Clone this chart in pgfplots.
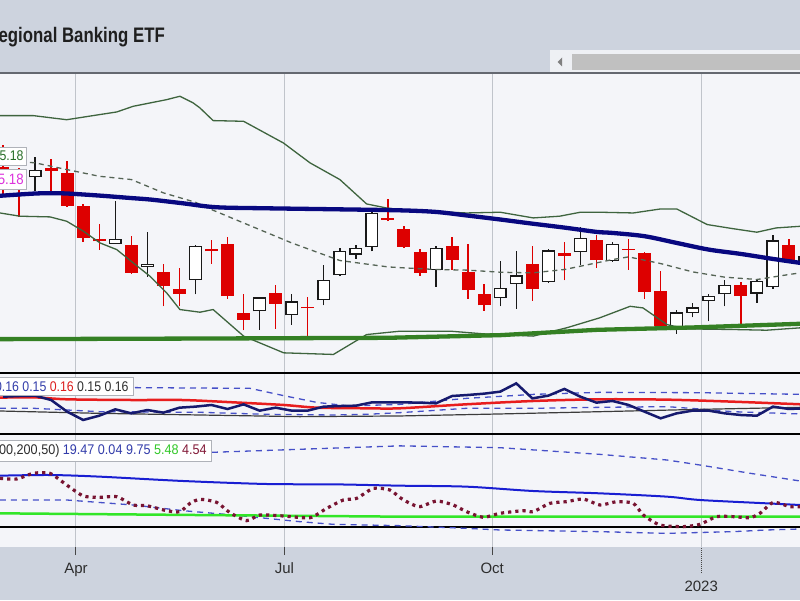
\documentclass[border=0pt]{standalone}
\usepackage{fontspec}
\setmainfont{Liberation Sans}
\setsansfont{Liberation Sans}
\usepackage{pgfplots}
\usepackage{pgfplotstable}
\pgfplotsset{compat=1.18}

\definecolor{hdr}{RGB}{205,211,222}
\definecolor{chartbg}{RGB}{244,245,249}
\definecolor{gridH}{RGB}{214,217,223}
\definecolor{gridV}{RGB}{192,196,203}
\definecolor{topline}{RGB}{100,104,112}
\definecolor{cRed}{RGB}{221,0,0}
\definecolor{bbGreen}{RGB}{62,100,62}
\definecolor{midDash}{RGB}{85,100,85}
\definecolor{navyMA}{RGB}{8,8,128}
\definecolor{greenMA}{RGB}{52,128,36}
\definecolor{navyJag}{RGB}{22,26,110}
\definecolor{redLine}{RGB}{232,30,30}
\definecolor{blkThin}{RGB}{60,60,60}
\definecolor{blueDash}{RGB}{70,80,200}
\definecolor{blueSolid}{RGB}{25,30,210}
\definecolor{limeG}{RGB}{50,230,40}
\definecolor{maroon}{RGB}{120,20,50}
\definecolor{lblBlue}{RGB}{50,60,170}
\definecolor{lblRed}{RGB}{220,30,30}
\definecolor{lblDark}{RGB}{45,45,45}
\definecolor{lblGreen}{RGB}{50,200,40}
\definecolor{lblMaroon}{RGB}{130,25,55}
\definecolor{lblG2}{RGB}{40,110,40}
\definecolor{lblMag}{RGB}{220,50,220}
\definecolor{boxc}{RGB}{175,178,185}
\definecolor{tickc}{RGB}{70,70,70}
\definecolor{scrollbg}{RGB}{238,240,244}
\definecolor{scrollbar}{RGB}{192,192,192}

% weekly candles: k = week index, body top/bottom, high, low
\pgfplotstableread{
k top bot high low
0 67.21 66.95 69.66 64.28
1 65.01 64.76 67.13 62.04
3 67.13 66.81 68.11 64.66
4 66.59 63.18 67.86 63.04
5 63.11 59.97 63.35 59.59
6 59.91 59.65 61.37 58.86
8 59.27 56.69 60.14 56.60
10 56.78 55.55 57.55 53.72
11 55.25 54.84 57.15 53.72
13 58.93 58.70 59.81 57.52
14 59.40 54.60 60.04 54.37
15 53.15 52.58 54.84 51.67
17 54.90 53.96 55.61 51.83
19 53.66 53.55 54.51 51.06
24 61.91 61.78 63.90 61.61
25 60.89 59.11 61.18 59.02
26 58.64 56.69 58.96 56.45
28 59.18 57.92 60.04 57.00
29 56.75 55.19 59.43 54.37
30 54.75 53.81 55.70 53.35
33 57.55 55.28 59.18 54.22
35 58.55 58.23 59.56 56.00
37 59.81 57.86 60.30 57.15
39 58.96 58.83 59.91 57.00
40 58.55 54.95 58.60 54.37
41 55.04 52.02 56.84 51.95
46 55.58 54.60 55.85 52.16
49 59.27 57.86 59.91 57.80
}\redc

\pgfplotstableread{
k top bot high low
2 66.95 66.13 68.29 64.73
7 59.91 59.40 63.63 59.40
9 57.55 57.21 60.53 56.33
12 59.24 56.03 59.30 54.75
16 54.51 53.29 54.51 51.75
18 54.16 52.95 54.81 52.16
20 56.09 54.25 57.37 53.81
21 58.77 56.48 59.02 56.40
22 59.02 58.39 59.30 57.98
23 62.44 59.11 62.71 58.70
27 59.02 56.94 59.24 55.43
31 55.34 54.40 57.83 53.72
32 56.48 55.70 58.77 53.49
34 58.80 55.85 58.93 55.79
36 59.97 58.61 61.02 57.46
38 59.40 57.77 59.59 57.70
42 53.21 51.67 53.44 51.39
43 53.63 53.15 54.01 52.78
44 54.66 54.16 54.84 52.44
45 55.58 54.75 56.03 53.72
47 55.94 54.84 56.09 54.01
48 59.75 55.40 60.23 55.25
50 58.29 57.77 58.55 57.46
}\whitec

\pgfplotsset{
  panel/.style={scale only axis, width=800pt, xmin=-0.187, xmax=49.69,
    anchor=south west, axis line style={draw=none},
    xtick={4.55,17.55,30.5,43.53}, xticklabels={}, ytick=\empty,
    major tick length=0pt, tick style={draw=none},
    xmajorgrids, major grid style={draw=gridV, line width=1pt}},
  wick/.style={draw=none, mark=none, forget plot,
    error bars/.cd, y dir=both, y explicit, error mark=none,
    error bar style={line width=1.4pt, #1}},
}

\begin{document}
\begin{tikzpicture}[x=1pt,y=1pt]
\useasboundingbox (0,0) rectangle (800,600);
\clip (0,0) rectangle (800,600);
\fill[hdr] (0,0) rectangle (800,600);
\fill[chartbg] (0,53) rectangle (800,527);
% scrollbar
\fill[scrollbg] (550,528) rectangle (800,550);
\fill[scrollbar] (572,529.5) rectangle (800,545.5);
\fill[gray] (557.5,538) -- (562,542.5) -- (562,533.5) -- cycle;
% title
\node[anchor=base east, inner sep=0pt, font=\bfseries\fontsize{21}{24}\selectfont, text=black!88] at (165,557) {\scalebox{0.8}[1]{SPDR S\&P Regional Banking ETF}};

% ===== main price panel =====
\begin{axis}[panel, at={(0pt,227pt)}, height=300pt, ymode=log, ymin=48.25, ymax=78.23,
  minor ytick={50,55,60,65,70,75}, yminorgrids, minor grid style={draw=gridH, line width=1pt}]
% red candles
\addplot[wick={draw=cRed}] table[x=k, y=low, y error plus expr={\thisrow{high}-\thisrow{low}}, y error minus expr={0}] {\redc};
\addplot[wick={draw=cRed, line width=13pt}] table[x=k, y=bot, y error plus expr={\thisrow{top}-\thisrow{bot}}, y error minus expr={0}] {\redc};
% hollow candles
\addplot[wick={draw=black!90}] table[x=k, y=low, y error plus expr={\thisrow{high}-\thisrow{low}}, y error minus expr={0}] {\whitec};
\addplot[wick={draw=black!90, line width=13pt}] table[x=k, y=bot, y error plus expr={\thisrow{top}-\thisrow{bot}}, y error minus expr={0}] {\whitec};
\addplot[wick={draw=white, line width=10.4pt, shorten <=1.3pt, shorten >=1.3pt}] table[x=k, y=bot, y error plus expr={\thisrow{top}-\thisrow{bot}}, y error minus expr={0}] {\whitec};
% Bollinger bands
\addplot[bbGreen, line width=1.3pt] coordinates {(-0.19,73.04) (1.89,73.04) (3.97,72.56) (6.05,73.16) (7.09,73.47) (8.12,74.14) (10.2,74.94) (11.03,75.35) (11.86,74.54) (12.28,73.94) (13.1,72.45) (15.0,72.37) (17.48,69.89) (19.14,67.68) (21.0,65.89) (22.67,63.35) (23.9,62.94) (24.75,62.78) (26.5,62.6) (28.9,62.44) (31,62.51) (33.06,61.94) (34.7,62.11) (36,62.51) (37.2,62.51) (39.3,62.44) (41,62.84) (42,62.84) (43.9,61.28) (45.5,60.88) (47,60.53) (48.2,60.95) (49.7,61.11)};
\addplot[bbGreen, line width=1.3pt] coordinates {(-0.19,62.44) (1.06,62.11) (2.93,62.04) (3.97,61.61) (5.01,60.63) (6.05,59.49) (7.09,58.86) (8.12,57.61) (9.16,56.39) (10.2,54.90) (11.03,53.44) (12.28,53.21) (13.1,53.44) (15.0,51.2) (17.5,49.84) (20.6,49.71) (22.67,51.33) (24.75,51.61) (27.9,51.61) (29.95,51.39) (33.06,51.2) (35.14,51.89) (37.2,52.73) (39.1,53.72) (39.9,53.58) (41.4,52.16) (42.6,51.80) (45.5,51.75) (47.6,51.69) (49.7,51.89)};
\addplot[midDash, line width=1.3pt, dash pattern=on 5pt off 4pt] coordinates {(0,67.96) (2,67.68) (4,66.95) (6,66.24) (8,65.89) (10,64.49) (12,63.52) (13,62.78) (15,61.44) (18,59.49) (21,57.83) (24,57.24) (25,57.15) (27,57.00) (29,56.94) (31,56.75) (33,56.69) (35,57.00) (37,57.61) (38,57.92) (39,58.17) (41,57.55) (43,56.78) (45,56.30) (47,56.09) (49,56.54) (50,56.75)};
% moving averages
\addplot[navyMA, line width=4.3pt, smooth] coordinates {(-0.5,64.15) (0,64.21) (2,64.42) (3,64.45) (4,64.42) (6,64.21) (8,63.95) (9.2,63.80) (11.2,63.42) (13.3,63.01) (16.4,62.91) (20.6,62.81) (24.75,62.70) (27,62.54) (29,62.17) (31,61.78) (33,61.37) (35,60.98) (37,60.56) (38,60.46) (40,60.14) (42,59.49) (44,58.86) (46,58.45) (48,57.98) (50,57.55)};
\addplot[greenMA, line width=4.3pt] coordinates {(-0.5,50.95) (12,51.0) (24,51.06) (31,51.28) (37,51.72) (43,51.92) (50,52.24)};
\end{axis}

% ===== middle indicator panel =====
\begin{axis}[panel, at={(0pt,166pt)}, height=61pt, ymin=0.12, ymax=0.19]
\addplot[blueDash, line width=1.3pt, dash pattern=on 6pt off 5pt] coordinates {(0,0.1724) (8.3,0.1732) (15.4,0.1724) (17.5,0.1640) (19.55,0.1563) (21.6,0.1521) (24.75,0.1540) (28.9,0.1609) (33.1,0.1655) (37.2,0.1678) (43.45,0.1674) (49.7,0.1655)};
\addplot[blueDash, line width=1.3pt, dash pattern=on 6pt off 5pt] coordinates {(-0.2,0.1495) (1.9,0.1495) (6.05,0.1456) (12.3,0.1449) (16.4,0.1426) (20.6,0.1418) (22.7,0.1426) (24.75,0.1445) (28.9,0.1495) (33.1,0.1495) (37.2,0.1506) (41.4,0.1514) (43.45,0.1487) (45.5,0.1456) (49.7,0.1430)};
\addplot[blkThin, line width=1.2pt] coordinates {(-0.2,0.1464) (6,0.1437) (12.3,0.1418) (18.5,0.1399) (24.75,0.1407) (31,0.1430) (37.2,0.1456) (43.5,0.1483) (49.7,0.1506)};
\addplot[redLine, line width=2.5pt, smooth] coordinates {(-0.2,0.1617) (1.9,0.1621) (4,0.1598) (8.1,0.1590) (11.2,0.1590) (14.4,0.1563) (17.5,0.1533) (19.6,0.1502) (22.7,0.1495) (24.75,0.1495) (28.9,0.1541) (33.1,0.1579) (37.2,0.1598) (41.4,0.1594) (45.5,0.1571) (49.7,0.1541)};
\addplot[navyJag, line width=2.5pt] coordinates {(0,0.1628) (1,0.1636) (2,0.1640) (3,0.1590) (4,0.1456) (5,0.1361) (6,0.1410) (7,0.1483) (8,0.1437) (9,0.1475) (10,0.1445) (11,0.1502) (12,0.1514) (13,0.1533) (14,0.1487) (15,0.1540) (16,0.1468) (17,0.1502) (18,0.1468) (19,0.1468) (20,0.1514) (21,0.1521) (22,0.1525) (23,0.1563) (24,0.1563) (25,0.1563) (26,0.1560) (27,0.1552) (28,0.1636) (29,0.1648) (30,0.1663) (31,0.1686) (32,0.1781) (33,0.1609) (34,0.1640) (35,0.1717) (36,0.1628) (37,0.1560) (38,0.1579) (39,0.1533) (40,0.1456) (41,0.1380) (42,0.1437) (43,0.1468) (44,0.1468) (45,0.1437) (46,0.1418) (47,0.1410) (48,0.1514) (49,0.1487) (50,0.1495)};
\end{axis}

% ===== bottom indicator panel =====
\begin{axis}[panel, at={(0pt,53pt)}, height=113pt, ymin=-8.7, ymax=40.46,
  xtick={4.55,17.55,30.5}, xticklabels={Apr,Jul,Oct},
  extra x ticks={43.53}, extra x tick labels={2023},
  xtick pos=bottom, tick align=outside, major tick length=8pt,
  tick style={draw=tickc, line width=1pt},
  xticklabel style={font=\fontsize{15}{18}\selectfont, text=lblDark, yshift=-4.5pt},
  extra x tick style={grid=major, major tick length=26pt,
    tick style={draw=tickc, densely dotted, line width=1pt},
    xticklabel style={yshift=0.5pt}}]
\addplot[black, line width=2.4pt, forget plot] coordinates {(-1,0) (51,0)};
\addplot[blueDash, line width=1.3pt, dash pattern=on 6pt off 5pt] coordinates {(0,33.5) (8,33.5) (13,32.48) (19,33.93) (24.75,35.3) (31,34.5) (37.2,31.61) (41.4,29.15) (43.45,26.97) (46.6,23.35) (49.7,20.01)};
\addplot[blueDash, line width=1.3pt, dash pattern=on 6pt off 5pt] coordinates {(-0.2,11.75) (3.97,11.75) (8.12,9.57) (11.24,7.1) (14.36,5.22) (18.5,2.32) (20.6,1.16) (24.75,0.58) (28.9,-0.58) (31,-1.3) (37.2,-2.03) (41.4,-2.76) (45.5,-2.03) (47.6,-1.3) (49.7,-0.87)};
\addplot[blueSolid, line width=2pt, smooth] coordinates {(-0.2,22.33) (2.93,22.62) (6.05,21.9) (11.24,20.01) (16.43,18.71) (20.6,18.56) (24.75,17.98) (28.9,17.55) (33.06,15.66) (37.2,14.65) (41.4,13.2) (43.45,11.75) (47.6,10.3) (49.7,9.57)};
\addplot[limeG, line width=2.5pt] coordinates {(-0.2,5.95) (12,5.22) (24.75,4.5) (49.7,4.5)};
\addplot[maroon, line width=3.2pt, dash pattern=on 3.2pt off 4pt, smooth, tension=0.4] coordinates {(-0.19,21.17) (0.85,20.88) (1.89,23.35) (2.93,23.35) (3.97,18.27) (5.01,13.49) (6.05,12.91) (7.09,13.2) (8.12,9.57) (8.96,9.28) (10.2,7.11) (11.03,6.67) (11.66,10.3) (12.28,12.04) (13.32,10.73) (14.15,6.24) (15.19,2.76) (16.02,5.22) (17.48,4.79) (19.14,4.06) (20.18,8.12) (21.22,11.75) (22.05,12.47) (23.09,16.82) (24.12,16.1) (24.75,12.8) (25.37,10.3) (26.0,8.85) (27.04,11.31) (28.07,9.57) (28.9,6.67) (29.95,4.21) (30.98,5.95) (32.44,7.11) (33.06,6.67) (34.1,10.3) (35.14,11.02) (36.18,12.18) (37.22,9.57) (38.26,11.02) (39.3,10.3) (39.92,5.22) (40.96,0.87) (42.41,0.15) (43.45,1.16) (44.49,4.5) (45.53,4.5) (46.57,4.06) (47.19,5.95) (48.03,10.73) (49.06,8.85) (49.7,8.85)};
\end{axis}

% panel borders
\draw[topline, line width=1.6pt] (0,527) -- (800,527);
\draw[black, line width=2.4pt] (0,227) -- (800,227);
\draw[black, line width=2.4pt] (0,166) -- (800,166);

% legend value boxes
\node[draw=boxc, fill=white, line width=0.8pt, inner xsep=3pt, inner ysep=4pt, anchor=east,
  font=\fontsize{14}{16}\selectfont, text=lblG2] at (27,444) {\scalebox{0.88}[1]{65.18}};
\node[draw=boxc, fill=white, line width=0.8pt, inner xsep=3pt, inner ysep=5pt, anchor=east,
  font=\fontsize{15}{17}\selectfont, text=lblMag] at (27,420.5) {\scalebox{0.88}[1]{65.18}};
\node[draw=boxc, fill=white, line width=0.8pt, inner xsep=5pt, inner ysep=4pt, anchor=east,
  font=\fontsize{14}{16}\selectfont] at (134,213.5) {\scalebox{0.88}[1]{\color{lblBlue}0.16 0.15 \color{lblRed}0.16 \color{lblDark}0.15 0.16}};
\node[draw=boxc, fill=white, line width=0.8pt, inner xsep=5pt, inner ysep=4pt, anchor=east,
  font=\fontsize{14}{16}\selectfont] at (212,149) {\scalebox{0.90}[1]{\color{lblDark}(100,200,50) \color{lblBlue}19.47 0.04 9.75 \color{lblGreen}5.48 \color{lblMaroon}4.54}};
\end{tikzpicture}
\end{document}
